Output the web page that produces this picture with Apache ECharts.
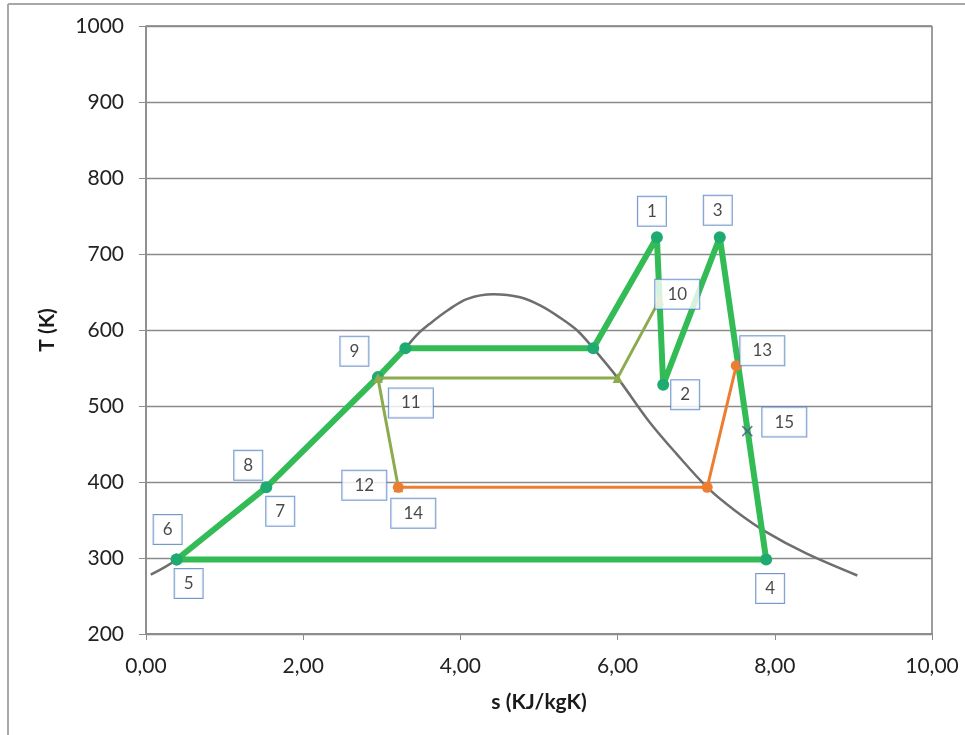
<!DOCTYPE html>
<html>
<head>
<meta charset="utf-8">
<script src="https://cdn.jsdelivr.net/npm/echarts@6/dist/echarts.min.js"></script>
<style>html,body{margin:0;padding:0;background:#fff}#c{width:965px;height:735px}</style>
</head>
<body>
<div id="c"></div>
<script>
// ---- data ----
const domeS = [0.06, 0.39, 1.53, 2.95, 3.30, 3.45, 3.62, 3.84, 4.09, 4.42, 4.76, 5.02, 5.27, 5.49, 5.69, 6.00, 6.39, 6.75, 7.14, 7.50, 7.91, 8.40, 9.05];
const domeT = [278, 298, 393, 538, 576, 594, 609, 626, 641, 647, 643, 632, 616, 599, 576, 537, 481, 437, 393, 362, 333, 306, 277];
const cycleS = [0.39, 1.53, 2.95, 3.30, 5.69, 6.50, 6.58, 7.30, 7.89, 0.39];
const cycleT = [298, 393, 538, 576, 576, 722, 528, 722, 298, 298];
const regenS = [3.21, 2.95, 6.00, 6.53];
const regenT = [393, 537, 537, 639];
const lowS = [3.21, 7.14, 7.51];
const lowT = [393, 393, 553];
const markS = [7.65];
const markT = [467];
const labelNames = ['1','2','3','4','5','6','7','8','9','10','11','12','13','14','15'];
const labelS = [6.50, 6.58, 7.30, 7.89, 0.39, 0.39, 1.53, 1.53, 3.30, 6.53, 2.95, 3.21, 7.51, 3.21, 7.65];
const labelT = [722, 528, 722, 298, 298, 298, 393, 393, 576, 639, 537, 393, 553, 393, 467];
const xTicks = [0, 2, 4, 6, 8, 10];
const yTicks = [200, 300, 400, 500, 600, 700, 800, 900, 1000];

// ---- styling (label box offsets in px) ----
const labelOffsets = [[-5,-26],[22,10],[-2,-27],[4,29],[12,24],[-9,-30],[14,24],[-18,-22],[-51,3],[18,-6],[33,25],[-34,-2],[26,-15],[15,26],[37,-9]];

const zip = (a, b) => a.map((v, i) => [v, b[i]]);
const FONT = 'Lato, "Open Sans", sans-serif';

const chart = echarts.init(document.getElementById('c'), null, {renderer: 'canvas'});
chart.setOption({
  animation: false,
  backgroundColor: '#ffffff',
  grid: {left: 146, right: 33, top: 26, bottom: 101, show: true, borderColor: '#3a3a3a', borderWidth: 1},
  xAxis: {
    type: 'value', min: xTicks[0], max: xTicks[xTicks.length - 1], interval: 2,
    name: 's (KJ/kgK)', nameLocation: 'middle', nameGap: 58,
    nameTextStyle: {fontFamily: FONT, fontWeight: 'bold', fontSize: 21, color: '#1a1a1a'},
    axisLine: {show: true, onZero: false, lineStyle: {color: '#8c8c8c', width: 1.5}},
    axisTick: {show: true, length: 6, lineStyle: {color: '#8c8c8c'}},
    axisLabel: {fontFamily: FONT, fontSize: 21, color: '#222', margin: 22,
      formatter: v => v.toFixed(2).replace('.', ',')},
    splitLine: {show: false}
  },
  yAxis: {
    type: 'value', min: yTicks[0], max: yTicks[yTicks.length - 1], interval: 100,
    name: 'T (K)', nameLocation: 'middle', nameGap: 88, nameRotate: 90,
    nameTextStyle: {fontFamily: FONT, fontWeight: 'bold', fontSize: 21, color: '#1a1a1a'},
    axisLine: {show: true, lineStyle: {color: '#8c8c8c', width: 1.5}},
    axisTick: {show: true, length: 7, lineStyle: {color: '#8c8c8c'}},
    axisLabel: {fontFamily: FONT, fontSize: 21, color: '#222', margin: 22, formatter: v => String(v)},
    splitLine: {show: true, lineStyle: {color: '#8a8a8a', width: 1.3}}
  },
  graphic: [
    {type: 'line', shape: {x1: 8, y1: 4, x2: 965, y2: 4}, style: {stroke: '#a8a8a8', lineWidth: 2}},
    {type: 'line', shape: {x1: 8, y1: 4, x2: 8, y2: 735}, style: {stroke: '#a8a8a8', lineWidth: 2}}
  ],
  series: [
    {
      type: 'line', data: zip(domeS, domeT), smooth: 0.35, showSymbol: false, symbol: 'none',
      lineStyle: {color: '#6e6e6e', width: 2.5}, z: 2
    },
    {
      type: 'line', data: zip(cycleS, cycleT), symbol: 'circle', symbolSize: 12,
      lineStyle: {color: '#33bb55', width: 6}, itemStyle: {color: '#1faa72'}, z: 3
    },
    {
      type: 'line', data: zip(regenS, regenT), symbol: 'triangle', symbolSize: 10,
      lineStyle: {color: '#8cab4e', width: 3}, itemStyle: {color: '#8cab4e'}, z: 4
    },
    {
      type: 'line', data: zip(lowS, lowT), symbol: 'circle', symbolSize: 11,
      lineStyle: {color: '#ed7d31', width: 3}, itemStyle: {color: '#ed7d31'}, z: 5
    },
    {
      type: 'scatter', data: zip(markS, markT), symbol: 'path://M0,0L10,10M10,0L0,10', symbolSize: 10,
      itemStyle: {color: 'none', borderColor: '#4a5a8a', borderWidth: 1.6}, z: 6
    },
    {
      type: 'scatter', symbolSize: 0, z: 7, silent: true,
      data: labelNames.map((n, i) => ({
        value: [labelS[i], labelT[i]], name: n,
        label: {offset: labelOffsets[i], width: n.length > 1 ? 44 : 28}
      })),
      label: {
        show: true, position: 'inside', formatter: p => p.name,
        fontFamily: FONT, fontSize: 17, color: '#1a1a1a', align: 'center',
        lineHeight: 17, padding: [6, 0, 6, 0],
        backgroundColor: '#ffffff', borderColor: '#4f7ec2', borderWidth: 1
      }
    }
  ]
});
</script>
</body>
</html>
